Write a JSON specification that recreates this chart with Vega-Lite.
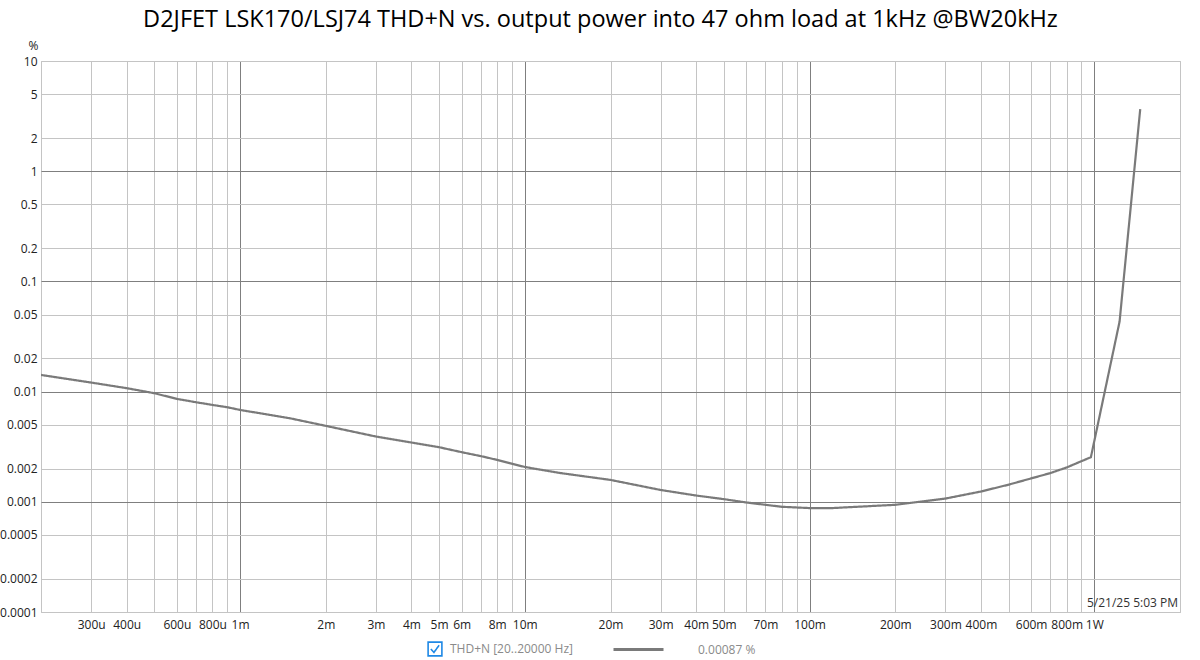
{
  "$schema": "https://vega.github.io/schema/vega-lite/v6.json",
  "autosize": "none",
  "width": 1139,
  "height": 551,
  "padding": {"left": 41, "top": 61, "right": 20, "bottom": 48},
  "background": "white",
  "title": {
    "text": "D2JFET LSK170/LSJ74 THD+N vs. output power into 47 ohm load at 1kHz @BW20kHz",
    "font": "Open Sans",
    "fontSize": 23.5,
    "fontWeight": "normal",
    "color": "#000000",
    "anchor": "middle",
    "dx": -10,
    "offset": 8
  },
  "config": {
    "view": {"stroke": "#c0c0c0"},
    "font": "Open Sans",
    "axis": {
      "labelFont": "Open Sans",
      "labelFontSize": 12,
      "labelColor": "#222222",
      "ticks": false,
      "domain": false
    }
  },
  "data": {
    "values": [
      {"power": 0.0002, "thdn": 0.01416},
      {"power": 0.0003, "thdn": 0.01208},
      {"power": 0.0004, "thdn": 0.01074},
      {"power": 0.0005, "thdn": 0.00967},
      {"power": 0.0006, "thdn": 0.00859},
      {"power": 0.0007, "thdn": 0.00801},
      {"power": 0.0008, "thdn": 0.00757},
      {"power": 0.0009, "thdn": 0.00722},
      {"power": 0.001, "thdn": 0.00682},
      {"power": 0.0015, "thdn": 0.00572},
      {"power": 0.002, "thdn": 0.00489},
      {"power": 0.003, "thdn": 0.00391},
      {"power": 0.004, "thdn": 0.00345},
      {"power": 0.005, "thdn": 0.00313},
      {"power": 0.006, "thdn": 0.00282},
      {"power": 0.007, "thdn": 0.0026},
      {"power": 0.008, "thdn": 0.0024},
      {"power": 0.01, "thdn": 0.00207},
      {"power": 0.0132, "thdn": 0.00183},
      {"power": 0.02, "thdn": 0.00158},
      {"power": 0.03, "thdn": 0.00128},
      {"power": 0.04, "thdn": 0.00114},
      {"power": 0.05, "thdn": 0.001057},
      {"power": 0.06, "thdn": 0.000986},
      {"power": 0.07, "thdn": 0.000939},
      {"power": 0.08, "thdn": 0.000901},
      {"power": 0.1, "thdn": 0.000877},
      {"power": 0.12, "thdn": 0.000877},
      {"power": 0.2, "thdn": 0.000939},
      {"power": 0.3, "thdn": 0.00107},
      {"power": 0.4, "thdn": 0.00124},
      {"power": 0.5, "thdn": 0.00143},
      {"power": 0.6, "thdn": 0.00163},
      {"power": 0.7, "thdn": 0.00182},
      {"power": 0.8, "thdn": 0.00205},
      {"power": 0.973, "thdn": 0.00254},
      {"power": 1.227, "thdn": 0.0432},
      {"power": 1.45, "thdn": 3.66}
    ]
  },
  "layer": [
    {
      "mark": {"type": "line", "strokeWidth": 2.2, "clip": true},
      "encoding": {
        "x": {
          "field": "power",
          "type": "quantitative",
          "scale": {"type": "log", "domain": [0.0002, 2], "nice": false},
          "axis": {
            "title": null,
            "values": [0.0002, 0.0003, 0.0004, 0.0005, 0.0006, 0.0007, 0.0008, 0.0009,
                       0.001, 0.002, 0.003, 0.004, 0.005, 0.006, 0.007, 0.008, 0.009,
                       0.01, 0.02, 0.03, 0.04, 0.05, 0.06, 0.07, 0.08, 0.09,
                       0.1, 0.2, 0.3, 0.4, 0.5, 0.6, 0.7, 0.8, 0.9, 1, 2],
            "format": "~s",
            "labelExpr": "indexof(['300µ','400µ','600µ','800µ','1m','2m','3m','4m','5m','6m','8m','10m','20m','30m','40m','50m','70m','100m','200m','300m','400m','600m','800m','1'], datum.label) >= 0 ? (datum.label == '1' ? '1W' : replace(datum.label, 'µ', 'u')) : ''",
            "labelOverlap": false,
            "labelFlush": false,
            "labelPadding": 7,
            "grid": true,
            "gridWidth": 1,
            "gridColor": {
              "condition": {"test": "abs(log(datum.value)/LN10 - round(log(datum.value)/LN10)) < 0.01", "value": "#7f7f7f"},
              "value": "#c4c4c4"
            }
          }
        },
        "y": {
          "field": "thdn",
          "type": "quantitative",
          "scale": {"type": "log", "domain": [0.0001, 10], "nice": false},
          "axis": {
            "title": "%",
            "titleAngle": 0,
            "titleX": -8,
            "titleY": -16,
            "titleAlign": "center",
            "titleBaseline": "middle",
            "titleFont": "Open Sans",
            "titleFontSize": 12,
            "titleFontWeight": "normal",
            "titleColor": "#222222",
            "values": [0.0001, 0.0002, 0.0005, 0.001, 0.002, 0.005, 0.01, 0.02, 0.05, 0.1, 0.2, 0.5, 1, 2, 5, 10],
            "format": "~g",
            "labelPadding": 4,
            "labelOverlap": false,
            "labelFlush": false,
            "grid": true,
            "gridWidth": 1,
            "gridColor": {
              "condition": {"test": "datum.value > 0.0002 && datum.value < 9 && abs(log(datum.value)/LN10 - round(log(datum.value)/LN10)) < 0.01", "value": "#7f7f7f"},
              "value": "#c4c4c4"
            }
          }
        },
        "strokeDash": {
          "datum": "THD+N [20..20000 Hz]",
          "scale": {"range": [[1, 0]]},
          "legend": {
            "title": null,
            "orient": "none",
            "legendX": 386,
            "legendY": 580,
            "symbolType": "M-1,-1H1V1H-1Z M-0.6,0L-0.15,0.5L0.6,-0.55",
            "symbolSize": 190,
            "symbolStrokeWidth": 1.6,
            "symbolStrokeColor": "#1e88e5",
            "symbolFillColor": "white",
            "symbolDash": [],
            "labelFont": "Open Sans",
            "labelFontSize": 12,
            "labelColor": "#8a8a8a",
            "labelOffset": 7
          }
        },
        "color": {
          "datum": "0.00087 %",
          "scale": {"range": ["#7a7a7a"]},
          "legend": {
            "title": null,
            "orient": "none",
            "legendX": 571,
            "legendY": 562,
            "symbolType": "stroke",
            "symbolSize": 2500,
            "symbolStrokeWidth": 3,
            "labelFont": "Open Sans",
            "labelFontSize": 12,
            "labelColor": "#8a8a8a",
            "labelOffset": 33
          }
        }
      }
    },
    {
      "data": {"values": [{}]},
      "mark": {"type": "text", "align": "right", "baseline": "bottom", "dx": -2, "dy": -2, "font": "Open Sans", "fontSize": 12, "color": "#333333"},
      "encoding": {
        "x": {"datum": 2, "type": "quantitative"},
        "y": {"datum": 0.0001, "type": "quantitative"},
        "text": {"value": "5/21/25 5:03 PM"}
      }
    }
  ]
}
